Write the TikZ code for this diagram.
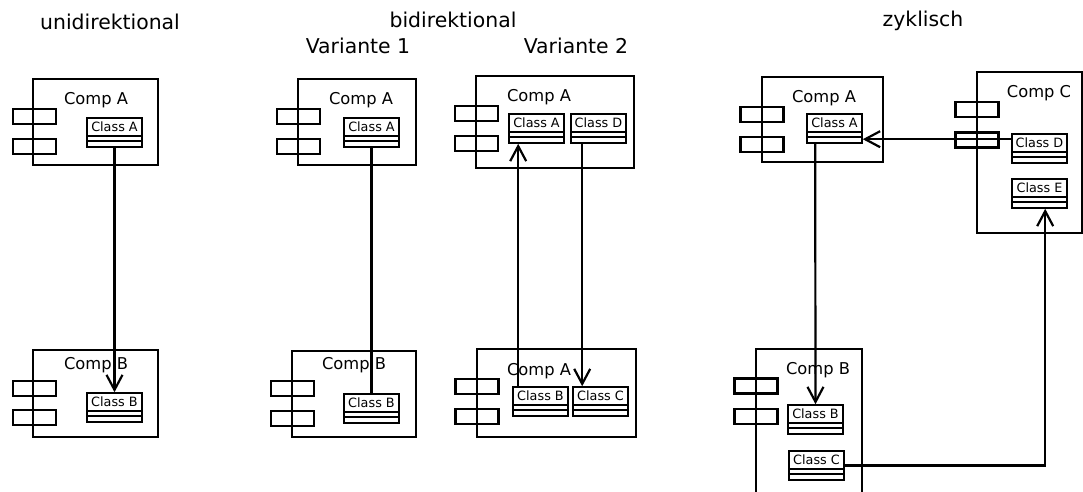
\documentclass[tikz,border=0pt]{standalone}
\usepackage{fontspec}
\setmainfont{DejaVu Sans}
\usetikzlibrary{arrows.meta}
\newcommand\mycomp[5]{%
  \node[comp, minimum width={(#4-#2)*1pt}, minimum height={(#5-#3)*1pt}] (#1) at ({(#2+#4)/2},{(#3+#5)/2}) {};}
\newcommand\mycls[4]{%
  \node[clsbox] (#1) at ({#2+27.5},{#3+14.5}) {};
  \draw[clsline] ([yshift=-19pt]#1.north west) -- ([yshift=-19pt]#1.north east)
    ([yshift=-24pt]#1.north west) -- ([yshift=-24pt]#1.north east);
  \node[clstxt] (#1-t) at ([yshift=-14pt]#1.north) {#4};}
\begin{document}
\begin{tikzpicture}[x=1pt,y=-1pt,
  comp/.style={draw,line width=2.2pt,inner sep=0pt},
  complw/.style={line width=2.2pt},
  port/.style={draw,line width=2.2pt,inner sep=0pt,minimum width=43pt,minimum height=15pt},
  clsbox/.style={draw,line width=1.6pt,inner sep=0pt,minimum width=55pt,minimum height=29pt},
  clsline/.style={line width=1.6pt},
  clstxt/.style={font=\fontsize{12.8}{14}\selectfont,anchor=base,inner sep=0pt},
  comptxt/.style={font=\fontsize{16.3}{19}\selectfont,anchor=base,inner sep=0pt},
  title/.style={font=\fontsize{20.4}{24}\selectfont,anchor=base,inner sep=0pt},
  conn/.style={line width=2.2pt},
  arr/.style={conn,-{Straight Barb[length=15pt,width=16pt]}}]
\useasboundingbox (0,0) rectangle (1083,491);

% titles
\node[title] (t1) at (110,29) {unidirektional};
\node[title] (t2) at (453,27) {bidirektional};
\node[title] (t3) at (358,53) {Variante 1};
\node[title] (t4) at (576,53) {Variante 2};
\node[title] (t5) at (923,26) {zyklisch};

% ---------- unidirektional
\mycomp{uA}{33}{79}{158}{165}
\node[port] (uAp1) at (34.5,116.5) {};
\node[port] (uAp2) at (34.5,146.5) {};
\node[comptxt] (uAl) at (96,104) {Comp A};
\mycls{uAc}{87}{118}{Class A}
\mycomp{uB}{33}{350}{158}{437}
\node[port] (uBp1) at (34.5,388.5) {};
\node[port] (uBp2) at (34.5,417.5) {};
\node[comptxt] (uBl) at (96,369) {Comp B};
\mycls{uBc}{87}{393}{Class B}
\draw[arr] (uAc.south) -- (uBc.north);

% ---------- Variante 1
\mycomp{vA}{298}{79}{416}{165}
\node[port] (vAp1) at (298.5,116.5) {};
\node[port] (vAp2) at (298.5,146.5) {};
\node[comptxt] (vAl) at (361,104) {Comp A};
\mycls{vAc}{344}{118}{Class A}
\mycomp{vB}{292}{351}{416}{437}
\node[port] (vBp1) at (292.5,388.5) {};
\node[port] (vBp2) at (292.5,418.5) {};
\node[comptxt] (vBl) at (354,369) {Comp B};
\mycls{vBc}{344}{394}{Class B}
\draw[conn] (vAc.south) -- (vBc.north);

% ---------- Variante 2
\mycomp{wA}{476}{76}{634}{168}
\node[port] (wAp1) at (476.5,113.5) {};
\node[port] (wAp2) at (476.5,143.5) {};
\node[comptxt] (wAl) at (539,101) {Comp A};
\mycls{wAc}{509}{114}{Class A}
\mycls{wDc}{571}{114}{Class D}
\mycomp{wB}{477}{349}{636}{437}
\node[port] (wBp1) at (477,386.5) {};
\node[port] (wBp2) at (477,416.5) {};
\node[comptxt] (wBl) at (539,375) {Comp A};
\mycls{wBc}{513}{387}{Class B}
\mycls{wCc}{573}{387}{Class C}
\draw[arr] ([xshift=6pt]wBc.north west) -- ([xshift=10pt]wAc.south west);
\draw[arr] ([xshift=12pt]wDc.south west) -- ([xshift=10pt]wCc.north west);

% ---------- zyklisch
\mycomp{zA}{762}{77}{883}{162}
\node[port] (zAp1) at (762,114.5) {};
\node[port] (zAp2) at (762,144.5) {};
\node[comptxt] (zAl) at (824,102) {Comp A};
\mycls{zAc}{807}{114}{Class A}
\mycomp{zC}{977}{72}{1082}{233}
\node[port] (zCp1) at (977,109.5) {};
\node[port] (zCp2) at (977,140) {};
\node[comptxt] (zCl) at (1039,97) {Comp C};
\mycls{zDc}{1012}{134}{Class D}
\mycls{zEc}{1012}{179}{Class E}
\coordinate (zBtl) at (756,349);
\coordinate (zBtr) at (862,349);
\draw[complw] (756,492) -- (zBtl) -- (zBtr) -- (862,492);
\node[port] (zBp1) at (756,386) {};
\node[port] (zBp2) at (756,416.5) {};
\node[comptxt] (zBl) at (818,374) {Comp B};
\mycls{zBc}{788}{405}{Class B}
\mycls{zCc}{789}{451}{Class C}
\draw[arr] ([xshift=9pt]zAc.south west) -- (zBc.north);
\draw[arr] ([yshift=-6pt]zDc.north west) -- ([yshift=-26pt]zAc.north east);
\draw[arr] (zCc.east) -| ([xshift=34pt]zEc.south west);
\end{tikzpicture}
\end{document}
